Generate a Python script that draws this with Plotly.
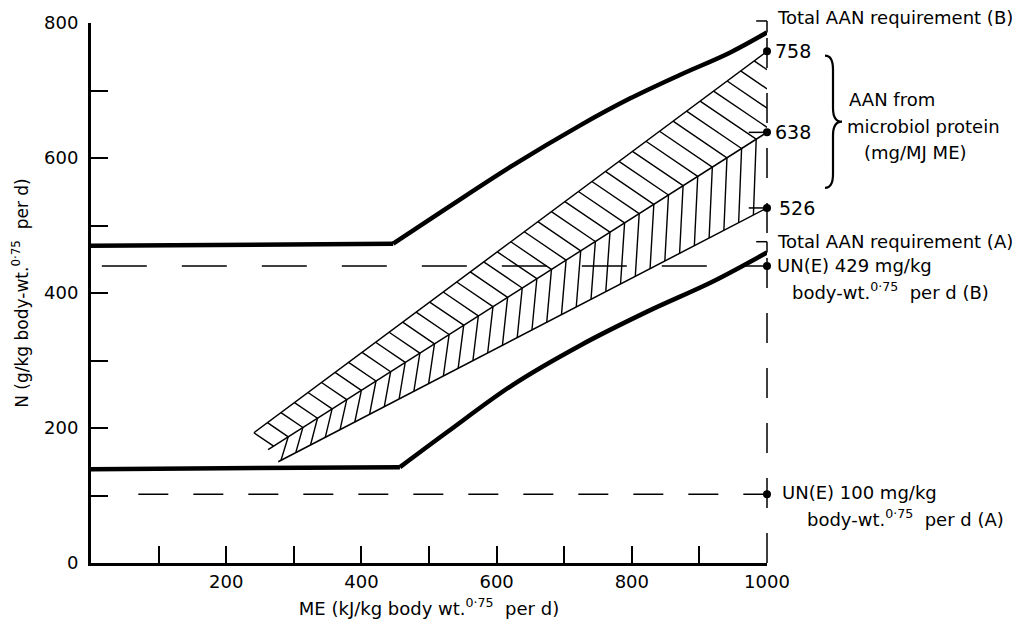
import numpy as np
import plotly.graph_objects as go

# ---------------- data ----------------
# Total AAN requirement (B) - upper thick curve (flat part, then rising part)
ME_B = [0, 447, 527, 624, 723, 797, 871, 945, 1000]
N_B = [470, 473, 526, 589, 648, 688, 723, 756, 786]
KNEE_B = 1  # index of the knee in ME_B
# Total AAN requirement (A) - lower thick curve
ME_A = [0, 457, 527, 624, 723, 822, 920, 1000]
N_A = [139, 142, 194, 264, 322, 372, 417, 460]
KNEE_A = 1
# UN(E) reference levels (dashed)
UN_B_X = [16, 1000]
UN_B_Y = [440, 440]
UN_A_X = [70, 1000]
UN_A_Y = [102, 102]
# AAN from microbial protein band edges (758 / 638 / 526 mg/MJ ME)
MICRO_HIGH_X = [241, 1000]
MICRO_HIGH_Y = [193, 758]
MICRO_MID_X = [262, 1000]
MICRO_MID_Y = [168, 638]
MICRO_LOW_X = [277, 1000]
MICRO_LOW_Y = [150, 526]
# marked points at ME = 1000
END_X = 1000
END_POINTS = [758, 638, 526, 440, 102]
END_LABELS = ["758", "638", "526"]
TOTAL_B_TOP = 803
TOTAL_A_TOP = 476

X_TICKS = [200, 400, 600, 800, 1000]
X_MINOR = [100, 300, 500, 700, 900]
Y_TICKS = [0, 200, 400, 600, 800]
Y_MINOR = [100, 300, 500, 700]

FONT = "DejaVu Sans"
W, H = 1031, 628
ML, MR, MT, MB = 91, 264, 19, 62
XR = [0, 1000]
YR = [0, 800]


def line_at(xs, ys, x):
    s = (ys[1] - ys[0]) / (xs[1] - xs[0])
    return ys[0] + s * (x - xs[0])


# ---------------- hatch construction from band edges ----------------
HATCH_STEP = 20
HATCH_SLOPE = -0.68
hx, hy = [], []
xu = MICRO_HIGH_X[0]
s_mid = (MICRO_MID_Y[1] - MICRO_MID_Y[0]) / (MICRO_MID_X[1] - MICRO_MID_X[0])
while xu < MICRO_HIGH_X[1] - 10:
    yu = line_at(MICRO_HIGH_X, MICRO_HIGH_Y, xu)
    gap = yu - line_at(MICRO_MID_X, MICRO_MID_Y, xu)
    d = gap / (s_mid - HATCH_SLOPE)
    xm = xu + d
    if xm > END_X:
        hx += [xu, END_X, None]
        hy += [yu, yu + HATCH_SLOPE * (END_X - xu), None]
    else:
        ym = line_at(MICRO_MID_X, MICRO_MID_Y, xm)
        slant = 11 - 7 * (xm - MICRO_MID_X[0]) / (END_X - MICRO_MID_X[0])
        xl = xm - slant
        pts_x, pts_y = [xu, xm], [yu, ym]
        if xl >= MICRO_LOW_X[0]:
            pts_x.append(xl)
            pts_y.append(line_at(MICRO_LOW_X, MICRO_LOW_Y, xl))
        hx += pts_x + [None]
        hy += pts_y + [None]
    xu += HATCH_STEP

fig = go.Figure()

fig.add_trace(go.Scatter(x=hx, y=hy, mode="lines",
                         line=dict(color="black", width=1.4), hoverinfo="skip"))
for xs, ys in [(MICRO_HIGH_X, MICRO_HIGH_Y), (MICRO_MID_X, MICRO_MID_Y), (MICRO_LOW_X, MICRO_LOW_Y)]:
    fig.add_trace(go.Scatter(x=xs, y=ys, mode="lines", line=dict(color="black", width=1.5)))

fig.add_trace(go.Scatter(x=UN_B_X, y=UN_B_Y, mode="lines",
                         line=dict(color="black", width=1.5, dash="45px,35px")))
fig.add_trace(go.Scatter(x=UN_A_X, y=UN_A_Y, mode="lines",
                         line=dict(color="black", width=1.5, dash="30px,25px")))

for xs, ys, k in [(ME_B, N_B, KNEE_B), (ME_A, N_A, KNEE_A)]:
    fig.add_trace(go.Scatter(x=xs[:k + 1], y=ys[:k + 1], mode="lines",
                             line=dict(color="black", width=4.5)))
    fig.add_trace(go.Scatter(x=xs[k:], y=ys[k:], mode="lines",
                             line=dict(color="black", width=4.5, shape="spline", smoothing=1.0)))

# short ticks at the microbial-protein end points
for v in END_POINTS[1:3]:
    fig.add_trace(go.Scatter(x=[END_X - 27, END_X], y=[v, v], mode="lines",
                             line=dict(color="black", width=1.5)))

fig.add_trace(go.Scatter(x=[END_X] * len(END_POINTS), y=END_POINTS, mode="markers",
                         marker=dict(color="black", size=8), cliponaxis=False))


def px_x(v):
    return (v - XR[0]) / (XR[1] - XR[0])


def px_y(v):
    return (v - YR[0]) / (YR[1] - YR[0])


shapes = []
xe = px_x(END_X)
# vertical dashed reference line at ME = 1000
shapes.append(dict(type="line", xref="paper", yref="paper", x0=xe, x1=xe,
                   y0=0, y1=px_y(TOTAL_B_TOP),
                   line=dict(color="black", width=1.5, dash="30px,25px")))
# little bracket ticks for the total requirement labels
for top, bottom in [(TOTAL_B_TOP, N_B[-1]), (TOTAL_A_TOP, N_A[-1])]:
    shapes.append(dict(type="line", xref="paper", yref="paper", x0=xe - 0.016, x1=xe,
                       y0=px_y(top), y1=px_y(top), line=dict(color="black", width=1.5)))
    shapes.append(dict(type="line", xref="paper", yref="paper", x0=xe, x1=xe,
                       y0=px_y(top), y1=px_y(bottom), line=dict(color="black", width=1.5)))

# curly brace for "AAN from microbiol protein"
pw, ph = W - ML - MR, H - MT - MB


def bx(p):
    return (p - ML) / pw


def by(p):
    return (H - MB - p) / ph


x0, xmid, xtip = bx(825), bx(833), bx(842)
yt, ym, yb = by(52), by(119), by(186)
r = 14 / ph
brace = (f"M {x0},{yt} Q {xmid},{yt} {xmid},{yt - r} L {xmid},{ym + r} "
         f"Q {xmid},{ym} {xtip},{ym} Q {xmid},{ym} {xmid},{ym - r} "
         f"L {xmid},{yb + r} Q {xmid},{yb} {x0},{yb}")
shapes.append(dict(type="path", xref="paper", yref="paper", path=brace,
                   line=dict(color="black", width=2.2)))

ann = []


def label(text, yval, xpix, size=18):
    ann.append(dict(text=text, xref="paper", yref="paper", x=xe, y=px_y(yval),
                    xshift=xpix - (ML + pw), xanchor="left", yanchor="middle",
                    showarrow=False, font=dict(family=FONT, size=size, color="black")))


label("Total AAN requirement (B)", 808, 775)
label(END_LABELS[0], END_POINTS[0], 773, 19)
label(END_LABELS[1], END_POINTS[1], 773, 19)
label(END_LABELS[2], END_POINTS[2], 777, 19)
label("AAN from", 686, 847)
label("microbiol protein", 646, 845)
label("(mg/MJ ME)", 608, 862)
label("Total AAN requirement (A)", 477, 775)
label("UN(E) 429 mg/kg", 441, 775)
label("body-wt.<sup>0·75</sup>  per d (B)", 403, 790)
label("UN(E) 100 mg/kg", 105, 780)
label("body-wt.<sup>0·75</sup>  per d (A)", 66, 805)

axis_common = dict(showline=True, linecolor="black", linewidth=3, ticks="inside",
                   ticklen=17, tickwidth=2, tickcolor="black", showgrid=False,
                   zeroline=False, tickfont=dict(family=FONT, size=18, color="black"))

fig.update_layout(
    width=W, height=H, margin=dict(l=ML, r=MR, t=MT, b=MB),
    paper_bgcolor="white", plot_bgcolor="white", showlegend=False,
    shapes=shapes, annotations=ann,
    xaxis=dict(range=XR, tickmode="array", tickvals=X_TICKS,
               ticktext=[str(v) for v in X_TICKS],
               minor=dict(ticks="inside", ticklen=17, tickwidth=2, tickcolor="black",
                          tickmode="array", tickvals=X_MINOR),
               title=dict(text="ME (kJ/kg body wt.<sup>0·75</sup>  per d)", standoff=12,
                          font=dict(family=FONT, size=18, color="black")),
               **axis_common),
    yaxis=dict(range=YR, tickmode="array", tickvals=Y_TICKS,
               ticktext=[str(v) for v in Y_TICKS], ticklabelstandoff=6,
               minor=dict(ticks="inside", ticklen=17, tickwidth=2, tickcolor="black",
                          tickmode="array", tickvals=Y_MINOR),
               title=dict(text="N (g/kg body-wt.<sup>0·75</sup>  per d)", standoff=12,
                          font=dict(family=FONT, size=17, color="black")),
               **axis_common),
)

fig.write_html("out.html")
